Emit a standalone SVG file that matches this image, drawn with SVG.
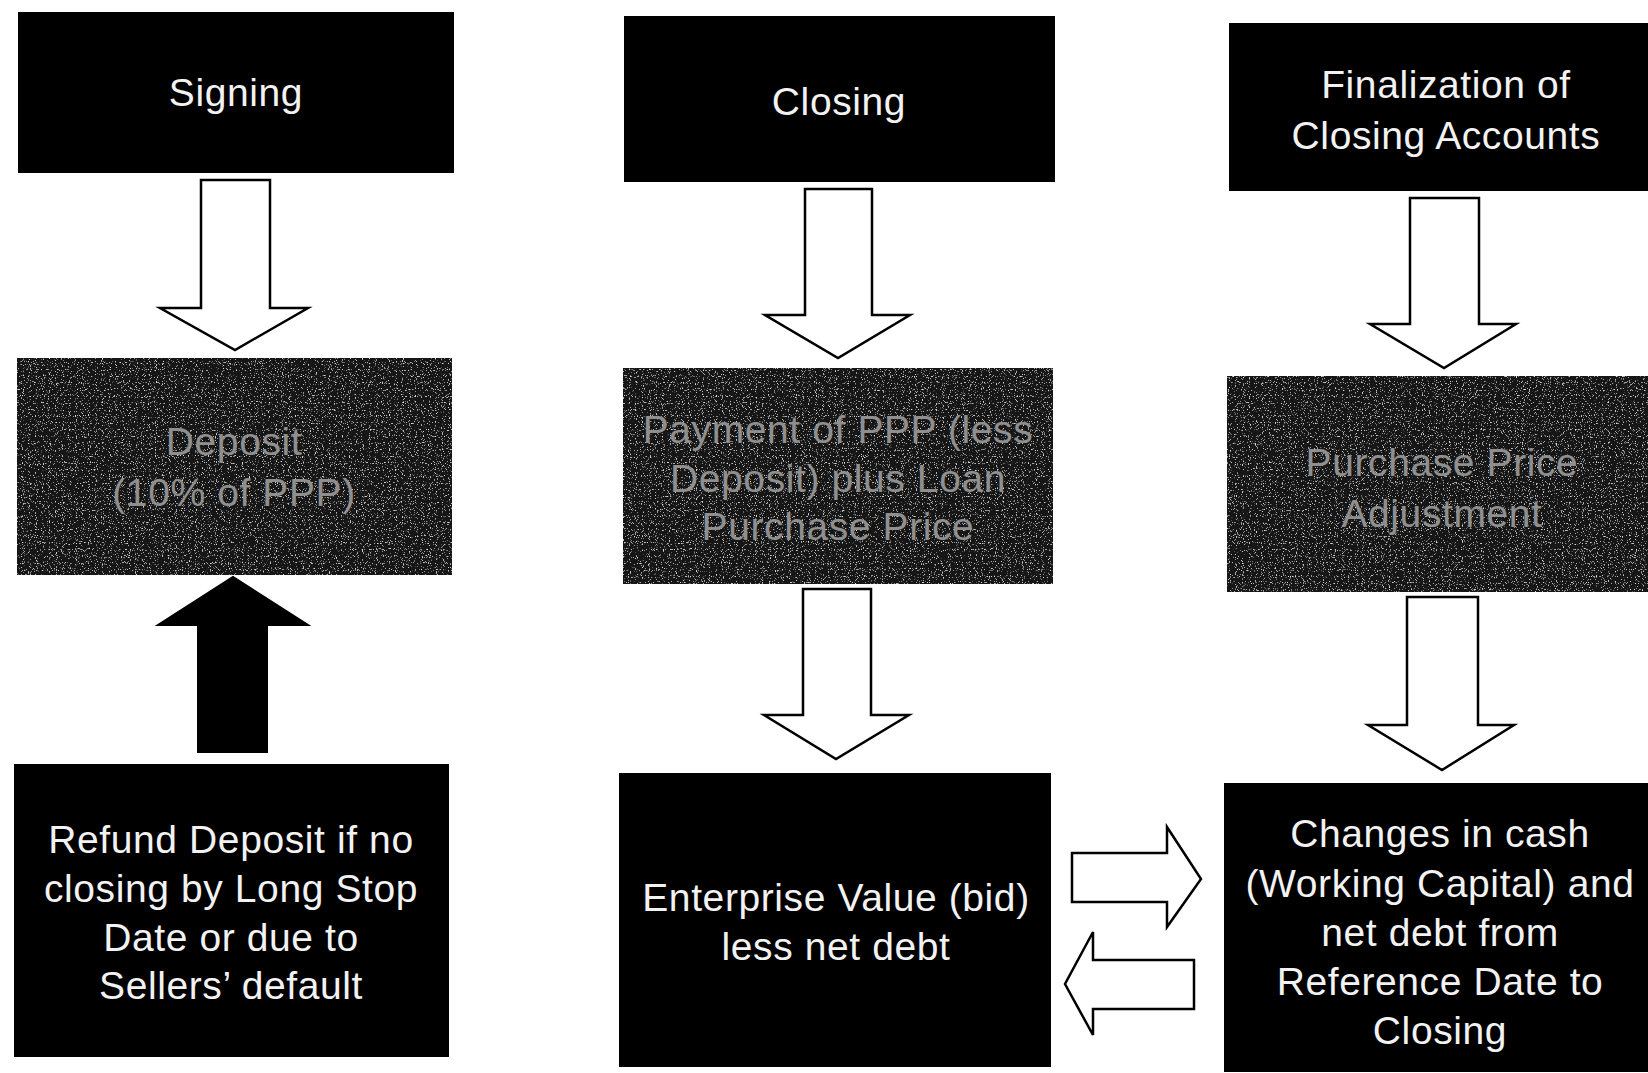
<svg xmlns="http://www.w3.org/2000/svg" width="1648" height="1073" viewBox="0 0 1648 1073">
  <style>
    .box { fill: #000; }
    .shaded { fill: #161616; filter: url(#grain); }
    .label { font-family: "Liberation Sans", Arial, sans-serif; font-size: 39px; fill: #f2f2f2; text-anchor: middle; letter-spacing: 0.6px; }
    .dim { fill: #8f8f8f; }
    .hollow { fill: #fff; stroke: #000; stroke-width: 2.5; stroke-linejoin: miter; }
    .solid { fill: #000; stroke: #000; stroke-width: 2; }
  </style>
  <defs>
    <!-- speckled texture for the shaded boxes -->
    <filter id="grain" x="0" y="0" width="1" height="1" filterUnits="objectBoundingBox">
      <feTurbulence type="fractalNoise" baseFrequency="0.85" numOctaves="1" seed="7" result="noise"/>
      <feColorMatrix in="noise" type="matrix" values="0 0 0 0 0.72  0 0 0 0 0.72  0 0 0 0 0.72  7 0 0 0 -4.2" result="dots"/>
      <feComposite in="dots" in2="SourceGraphic" operator="in" result="clipped"/>
      <feMerge>
        <feMergeNode in="SourceGraphic"/>
        <feMergeNode in="clipped"/>
      </feMerge>
    </filter>
  </defs>
  <rect width="1648" height="1073" fill="#fff"/>

  <!-- column 1 -->
  <g id="signing">
    <rect class="box" x="18" y="12" width="436" height="161"/>
    <text class="label" x="236" y="106">Signing</text>
  </g>
  <g id="deposit">
    <rect class="shaded" x="17" y="358" width="435" height="217"/>
    <text class="label dim" x="234" y="455">Deposit</text>
    <text class="label dim" x="234" y="506">(10% of PPP)</text>
  </g>
  <g id="refund">
    <rect class="box" x="14" y="764" width="435" height="293"/>
    <text class="label" x="231" y="853">Refund Deposit if no</text>
    <text class="label" x="231" y="902">closing by Long Stop</text>
    <text class="label" x="231" y="951">Date or due to</text>
    <text class="label" x="231" y="999">Sellers’ default</text>
  </g>

  <!-- column 2 -->
  <g id="closing">
    <rect class="box" x="624" y="16" width="431" height="166"/>
    <text class="label" x="839" y="115">Closing</text>
  </g>
  <g id="payment">
    <rect class="shaded" x="623" y="368" width="430" height="216"/>
    <text class="label dim" x="838" y="443">Payment of PPP (less</text>
    <text class="label dim" x="838" y="492">Deposit) plus Loan</text>
    <text class="label dim" x="838" y="540">Purchase Price</text>
  </g>
  <g id="enterprise-value">
    <rect class="box" x="619" y="773" width="432" height="294"/>
    <text class="label" x="836" y="911">Enterprise Value (bid)</text>
    <text class="label" x="836" y="960">less net debt</text>
  </g>

  <!-- column 3 -->
  <g id="finalization">
    <rect class="box" x="1229" y="23" width="419" height="168"/>
    <text class="label" x="1446" y="98">Finalization of</text>
    <text class="label" x="1446" y="149">Closing Accounts</text>
  </g>
  <g id="price-adjustment">
    <rect class="shaded" x="1227" y="376" width="421" height="216"/>
    <text class="label dim" x="1442" y="476">Purchase Price</text>
    <text class="label dim" x="1442" y="527">Adjustment</text>
  </g>
  <g id="changes">
    <rect class="box" x="1224" y="783" width="424" height="289"/>
    <text class="label" x="1440" y="847">Changes in cash</text>
    <text class="label" x="1440" y="897">(Working Capital) and</text>
    <text class="label" x="1440" y="946">net debt from</text>
    <text class="label" x="1440" y="995">Reference Date to</text>
    <text class="label" x="1440" y="1044">Closing</text>
  </g>

  <!-- block arrows -->
  <g id="connectors">
    <polygon class="hollow" points="201,180 270,180 270,308 308,308 235,350 160,308 201,308"/>
    <polygon class="solid" points="198,752 267,752 267,625 308,625 233,577 158,625 198,625"/>
    <polygon class="hollow" points="805,189 872,189 872,315 910,315 838,358 765,315 805,315"/>
    <polygon class="hollow" points="803,589 871,589 871,715 909,715 836,759 764,715 803,715"/>
    <polygon class="hollow" points="1410,198 1479,198 1479,324 1516,324 1444,368 1370,324 1410,324"/>
    <polygon class="hollow" points="1407,597 1478,597 1478,725 1514,725 1442,770 1368,725 1407,725"/>
    <polygon class="hollow" points="1072,853 1167,853 1167,827 1201,879 1167,927 1167,902 1072,902"/>
    <polygon class="hollow" points="1194,960 1093,960 1093,932 1065,984 1093,1035 1093,1009 1194,1009"/>
  </g>
</svg>
